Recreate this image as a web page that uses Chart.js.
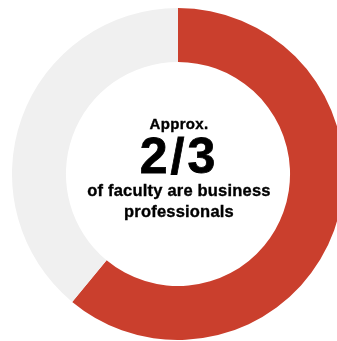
<!DOCTYPE html>
<html>
<head>
<meta charset="utf-8">
<script src="https://cdn.jsdelivr.net/npm/chart.js@4"></script>
<style>
  html, body { margin: 0; padding: 0; background: #fff; overflow: hidden; }
  body { width: 337px; height: 341px; position: relative; }
  #wrap { position: absolute; left: 12px; top: 8px; width: 332px; height: 332px; }
  .center {
    position: absolute; left: 179px; top: 168px; transform: translate(-50%, -50%);
    width: 230px; text-align: center; color: #000;
    font-family: "Liberation Sans", Arial, sans-serif; font-weight: bold;
    -webkit-text-stroke: 0.35px #000;
  }
  .approx { font-size: 15px; line-height: 18px; letter-spacing: 0.3px; }
  .big { font-size: 50px; line-height: 40px; letter-spacing: 3px; margin: 3px 0 4px; -webkit-text-stroke: 0.8px #000; }
  .sub { font-size: 16.5px; line-height: 21px; letter-spacing: 0.2px; }
</style>
</head>
<body>
<div id="wrap"><canvas id="donut" width="332" height="332"></canvas></div>
<div class="center">
  <div class="approx">Approx.</div>
  <div class="big">2/3</div>
  <div class="sub">of faculty are business<br>professionals</div>
</div>
<script>
const labels = ["Business professionals", "Other faculty"];
const shares = [61, 39];
const colors = ["#ca3f2d", "#f0f0f0"];

new Chart(document.getElementById("donut"), {
  type: "doughnut",
  data: { labels, datasets: [{ data: shares, backgroundColor: colors, borderWidth: 0 }] },
  options: {
    responsive: false, animation: false, cutout: "67.5%",
    plugins: { legend: { display: false }, tooltip: { enabled: false } },
    layout: { padding: 0 }
  }
});
</script>
</body>
</html>
